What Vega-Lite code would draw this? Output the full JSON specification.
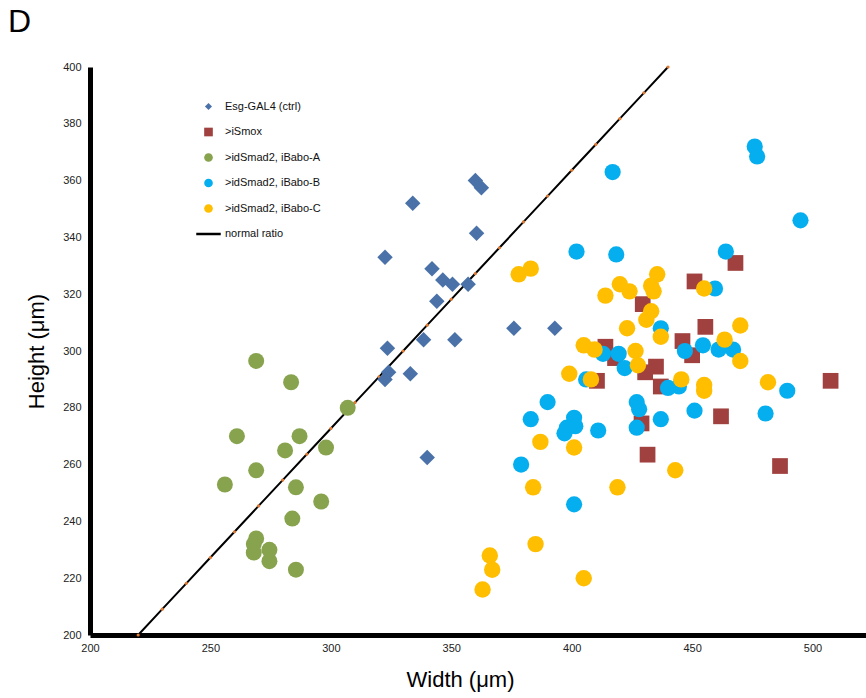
{
  "$schema": "https://vega.github.io/schema/vega-lite/v6.json",
  "width": 776,
  "height": 568,
  "autosize": {"type": "none"},
  "padding": {"left": 90, "top": 67, "right": 0, "bottom": 63},
  "background": "white",
  "title": {"text": "D", "anchor": "start", "frame": "group", "fontSize": 32, "font": "Liberation Sans", "fontWeight": "normal", "color": "#000", "dx": -82, "offset": 32, "dy": 10},
  "config": {"view": {"stroke": null}, "font": "Liberation Sans"},
  "datasets": {
    "ratio": [
      {"g": "normal ratio", "w": 220, "h": 200},
      {"g": "normal ratio", "w": 230, "h": 209.09},
      {"g": "normal ratio", "w": 240, "h": 218.18},
      {"g": "normal ratio", "w": 250, "h": 227.27},
      {"g": "normal ratio", "w": 260, "h": 236.36},
      {"g": "normal ratio", "w": 270, "h": 245.45},
      {"g": "normal ratio", "w": 280, "h": 254.55},
      {"g": "normal ratio", "w": 290, "h": 263.64},
      {"g": "normal ratio", "w": 300, "h": 272.73},
      {"g": "normal ratio", "w": 310, "h": 281.82},
      {"g": "normal ratio", "w": 320, "h": 290.91},
      {"g": "normal ratio", "w": 330, "h": 300},
      {"g": "normal ratio", "w": 340, "h": 309.09},
      {"g": "normal ratio", "w": 350, "h": 318.18},
      {"g": "normal ratio", "w": 360, "h": 327.27},
      {"g": "normal ratio", "w": 370, "h": 336.36},
      {"g": "normal ratio", "w": 380, "h": 345.45},
      {"g": "normal ratio", "w": 390, "h": 354.55},
      {"g": "normal ratio", "w": 400, "h": 363.64},
      {"g": "normal ratio", "w": 410, "h": 372.73},
      {"g": "normal ratio", "w": 420, "h": 381.82},
      {"g": "normal ratio", "w": 430, "h": 390.91},
      {"g": "normal ratio", "w": 440, "h": 400}
    ],
    "pts": [
      {"g": "Esg-GAL4 (ctrl)", "w": 360, "h": 360},
      {"g": "Esg-GAL4 (ctrl)", "w": 362.5, "h": 357.5},
      {"g": "Esg-GAL4 (ctrl)", "w": 334, "h": 352},
      {"g": "Esg-GAL4 (ctrl)", "w": 360.5, "h": 341.5},
      {"g": "Esg-GAL4 (ctrl)", "w": 322.5, "h": 333},
      {"g": "Esg-GAL4 (ctrl)", "w": 342, "h": 329},
      {"g": "Esg-GAL4 (ctrl)", "w": 346.5, "h": 325},
      {"g": "Esg-GAL4 (ctrl)", "w": 350.5, "h": 323.5},
      {"g": "Esg-GAL4 (ctrl)", "w": 357, "h": 323.5},
      {"g": "Esg-GAL4 (ctrl)", "w": 344, "h": 317.5},
      {"g": "Esg-GAL4 (ctrl)", "w": 338.5, "h": 304},
      {"g": "Esg-GAL4 (ctrl)", "w": 351.5, "h": 304},
      {"g": "Esg-GAL4 (ctrl)", "w": 323.5, "h": 301},
      {"g": "Esg-GAL4 (ctrl)", "w": 324, "h": 292.5},
      {"g": "Esg-GAL4 (ctrl)", "w": 322.5, "h": 290},
      {"g": "Esg-GAL4 (ctrl)", "w": 333, "h": 292},
      {"g": "Esg-GAL4 (ctrl)", "w": 376, "h": 308},
      {"g": "Esg-GAL4 (ctrl)", "w": 393, "h": 308},
      {"g": "Esg-GAL4 (ctrl)", "w": 340, "h": 262.5},
      {"g": ">iSmox", "w": 429.5, "h": 316.5},
      {"g": ">iSmox", "w": 414, "h": 301.5},
      {"g": ">iSmox", "w": 418, "h": 297.5},
      {"g": ">iSmox", "w": 410.5, "h": 289.5},
      {"g": ">iSmox", "w": 435, "h": 294.5},
      {"g": ">iSmox", "w": 430.5, "h": 292.5},
      {"g": ">iSmox", "w": 437, "h": 287.5},
      {"g": ">iSmox", "w": 429, "h": 274.5},
      {"g": ">iSmox", "w": 431.5, "h": 263.5},
      {"g": ">iSmox", "w": 468, "h": 331},
      {"g": ">iSmox", "w": 451, "h": 324.5},
      {"g": ">iSmox", "w": 455.5, "h": 308.5},
      {"g": ">iSmox", "w": 446, "h": 303.5},
      {"g": ">iSmox", "w": 450, "h": 298.5},
      {"g": ">iSmox", "w": 462, "h": 277},
      {"g": ">iSmox", "w": 507.5, "h": 289.5},
      {"g": ">iSmox", "w": 486.5, "h": 259.5},
      {"g": ">idSmad2, iBabo-A", "w": 307, "h": 280},
      {"g": ">idSmad2, iBabo-A", "w": 261, "h": 270},
      {"g": ">idSmad2, iBabo-A", "w": 287, "h": 270},
      {"g": ">idSmad2, iBabo-A", "w": 281, "h": 265},
      {"g": ">idSmad2, iBabo-A", "w": 298, "h": 266},
      {"g": ">idSmad2, iBabo-A", "w": 269, "h": 258},
      {"g": ">idSmad2, iBabo-A", "w": 256, "h": 253},
      {"g": ">idSmad2, iBabo-A", "w": 285.5, "h": 252},
      {"g": ">idSmad2, iBabo-A", "w": 296, "h": 247},
      {"g": ">idSmad2, iBabo-A", "w": 284, "h": 241},
      {"g": ">idSmad2, iBabo-A", "w": 269, "h": 234},
      {"g": ">idSmad2, iBabo-A", "w": 268, "h": 232},
      {"g": ">idSmad2, iBabo-A", "w": 268, "h": 229},
      {"g": ">idSmad2, iBabo-A", "w": 274.5, "h": 230},
      {"g": ">idSmad2, iBabo-A", "w": 274.5, "h": 226},
      {"g": ">idSmad2, iBabo-A", "w": 285.5, "h": 223},
      {"g": ">idSmad2, iBabo-A", "w": 269, "h": 296.5},
      {"g": ">idSmad2, iBabo-A", "w": 283.5, "h": 289},
      {"g": ">idSmad2, iBabo-B", "w": 417, "h": 363},
      {"g": ">idSmad2, iBabo-B", "w": 402, "h": 335},
      {"g": ">idSmad2, iBabo-B", "w": 418.5, "h": 334},
      {"g": ">idSmad2, iBabo-B", "w": 476, "h": 372},
      {"g": ">idSmad2, iBabo-B", "w": 477, "h": 368.5},
      {"g": ">idSmad2, iBabo-B", "w": 495, "h": 346},
      {"g": ">idSmad2, iBabo-B", "w": 464, "h": 335},
      {"g": ">idSmad2, iBabo-B", "w": 459.5, "h": 322},
      {"g": ">idSmad2, iBabo-B", "w": 437, "h": 308},
      {"g": ">idSmad2, iBabo-B", "w": 413, "h": 299},
      {"g": ">idSmad2, iBabo-B", "w": 419.5, "h": 299},
      {"g": ">idSmad2, iBabo-B", "w": 422, "h": 294},
      {"g": ">idSmad2, iBabo-B", "w": 406, "h": 290},
      {"g": ">idSmad2, iBabo-B", "w": 440, "h": 287},
      {"g": ">idSmad2, iBabo-B", "w": 444.5, "h": 287.5},
      {"g": ">idSmad2, iBabo-B", "w": 390, "h": 282},
      {"g": ">idSmad2, iBabo-B", "w": 383, "h": 276},
      {"g": ">idSmad2, iBabo-B", "w": 401, "h": 276.5},
      {"g": ">idSmad2, iBabo-B", "w": 401.5, "h": 273.5},
      {"g": ">idSmad2, iBabo-B", "w": 398, "h": 273},
      {"g": ">idSmad2, iBabo-B", "w": 397, "h": 271},
      {"g": ">idSmad2, iBabo-B", "w": 411, "h": 272},
      {"g": ">idSmad2, iBabo-B", "w": 427, "h": 282},
      {"g": ">idSmad2, iBabo-B", "w": 428, "h": 279.5},
      {"g": ">idSmad2, iBabo-B", "w": 427, "h": 273},
      {"g": ">idSmad2, iBabo-B", "w": 437, "h": 276},
      {"g": ">idSmad2, iBabo-B", "w": 379, "h": 260},
      {"g": ">idSmad2, iBabo-B", "w": 447, "h": 300},
      {"g": ">idSmad2, iBabo-B", "w": 454.5, "h": 302},
      {"g": ">idSmad2, iBabo-B", "w": 461, "h": 300.5},
      {"g": ">idSmad2, iBabo-B", "w": 467, "h": 300.5},
      {"g": ">idSmad2, iBabo-B", "w": 451, "h": 279},
      {"g": ">idSmad2, iBabo-B", "w": 480.5, "h": 278},
      {"g": ">idSmad2, iBabo-B", "w": 489.5, "h": 286},
      {"g": ">idSmad2, iBabo-B", "w": 401, "h": 246},
      {"g": ">idSmad2, iBabo-C", "w": 378, "h": 327},
      {"g": ">idSmad2, iBabo-C", "w": 383, "h": 329},
      {"g": ">idSmad2, iBabo-C", "w": 420, "h": 323.5},
      {"g": ">idSmad2, iBabo-C", "w": 424, "h": 321},
      {"g": ">idSmad2, iBabo-C", "w": 414, "h": 319.5},
      {"g": ">idSmad2, iBabo-C", "w": 435.5, "h": 327},
      {"g": ">idSmad2, iBabo-C", "w": 433, "h": 323},
      {"g": ">idSmad2, iBabo-C", "w": 434, "h": 321},
      {"g": ">idSmad2, iBabo-C", "w": 433, "h": 314},
      {"g": ">idSmad2, iBabo-C", "w": 431, "h": 311},
      {"g": ">idSmad2, iBabo-C", "w": 423, "h": 308},
      {"g": ">idSmad2, iBabo-C", "w": 437, "h": 305},
      {"g": ">idSmad2, iBabo-C", "w": 405, "h": 302},
      {"g": ">idSmad2, iBabo-C", "w": 409.5, "h": 300.5},
      {"g": ">idSmad2, iBabo-C", "w": 426.5, "h": 300},
      {"g": ">idSmad2, iBabo-C", "w": 427.5, "h": 295},
      {"g": ">idSmad2, iBabo-C", "w": 399, "h": 292},
      {"g": ">idSmad2, iBabo-C", "w": 408, "h": 290},
      {"g": ">idSmad2, iBabo-C", "w": 387, "h": 268},
      {"g": ">idSmad2, iBabo-C", "w": 401, "h": 266},
      {"g": ">idSmad2, iBabo-C", "w": 455, "h": 322},
      {"g": ">idSmad2, iBabo-C", "w": 463.5, "h": 304},
      {"g": ">idSmad2, iBabo-C", "w": 470, "h": 309},
      {"g": ">idSmad2, iBabo-C", "w": 470, "h": 296.5},
      {"g": ">idSmad2, iBabo-C", "w": 445.5, "h": 290},
      {"g": ">idSmad2, iBabo-C", "w": 455, "h": 288},
      {"g": ">idSmad2, iBabo-C", "w": 455, "h": 286},
      {"g": ">idSmad2, iBabo-C", "w": 481.5, "h": 289},
      {"g": ">idSmad2, iBabo-C", "w": 443, "h": 258},
      {"g": ">idSmad2, iBabo-C", "w": 384, "h": 252},
      {"g": ">idSmad2, iBabo-C", "w": 419, "h": 252},
      {"g": ">idSmad2, iBabo-C", "w": 385, "h": 232},
      {"g": ">idSmad2, iBabo-C", "w": 366, "h": 228},
      {"g": ">idSmad2, iBabo-C", "w": 367, "h": 223},
      {"g": ">idSmad2, iBabo-C", "w": 363, "h": 216},
      {"g": ">idSmad2, iBabo-C", "w": 405, "h": 220}
    ]
  },
  "encoding": {
    "x": {
      "field": "w", "type": "quantitative",
      "scale": {"domain": [200, 522.2], "nice": false, "zero": false},
      "axis": {
        "values": [200, 250, 300, 350, 400, 450, 500],
        "title": "Width (μm)", "titleFontSize": 22, "titleFontWeight": "normal", "titleColor": "#000",
        "titleX": 370, "titleY": 51, "titleBaseline": "alphabetic", "titleAnchor": null,
        "labelFontSize": 11, "labelColor": "#222", "labelPadding": 7, "labelFlush": false,
        "ticks": false, "grid": false, "domainColor": "#000", "domainWidth": 5
      }
    },
    "y": {
      "field": "h", "type": "quantitative",
      "scale": {"domain": [200, 400], "nice": false, "zero": false},
      "axis": {
        "values": [200, 220, 240, 260, 280, 300, 320, 340, 360, 380, 400],
        "title": "Height (μm)", "titleFontSize": 22, "titleFontWeight": "normal", "titleColor": "#000",
        "titleX": -47, "titleY": 284, "titleAngle": -90, "titleAlign": "center", "titleBaseline": "alphabetic",
        "labelFontSize": 11, "labelColor": "#222", "labelPadding": 9,
        "ticks": false, "grid": false, "domainColor": "#000", "domainWidth": 5
      }
    }
  },
  "layer": [
    {
      "data": {"name": "ratio"},
      "mark": {"type": "line", "strokeWidth": 2},
      "encoding": {
        "color": {
          "field": "g", "type": "nominal",
          "scale": {
            "domain": ["Esg-GAL4 (ctrl)", ">iSmox", ">idSmad2, iBabo-A", ">idSmad2, iBabo-B", ">idSmad2, iBabo-C", "normal ratio"],
            "range": ["#4a72a8", "#a0413f", "#87a34e", "#05aeef", "#ffbe00", "#000000"]
          },
          "legend": {
            "title": null, "orient": "none", "legendX": 113, "legendY": 34,
            "labelFontSize": 11, "labelColor": "#111", "labelOffset": 11,
            "symbolSize": 75, "rowPadding": 13.5,
            "encode": {
              "symbols": {
                "update": {
                  "stroke": {"signal": "datum.value === 'normal ratio' ? '#000' : 'transparent'"},
                  "strokeWidth": {"signal": "datum.value === 'normal ratio' ? 2.5 : 0"},
                  "size": {"signal": "datum.value === 'normal ratio' ? 600 : datum.value === 'Esg-GAL4 (ctrl)' ? 50 : 75"}
                }
              }
            }
          }
        }
      }
    },
    {
      "data": {"name": "ratio"},
      "mark": {"type": "point", "filled": true, "color": "#e07a32", "size": 10, "opacity": 1}
    },
    {
      "data": {"name": "pts"},
      "mark": {"type": "point", "filled": true, "opacity": 1},
      "encoding": {
        "color": {"field": "g", "type": "nominal"},
        "shape": {
          "field": "g", "type": "nominal",
          "scale": {
            "domain": ["Esg-GAL4 (ctrl)", ">iSmox", ">idSmad2, iBabo-A", ">idSmad2, iBabo-B", ">idSmad2, iBabo-C", "normal ratio"],
            "range": ["diamond", "square", "circle", "circle", "circle", "stroke"]
          }
        },
        "size": {
          "field": "g", "type": "nominal",
          "scale": {
            "domain": ["Esg-GAL4 (ctrl)", ">iSmox", ">idSmad2, iBabo-A", ">idSmad2, iBabo-B", ">idSmad2, iBabo-C"],
            "range": [240, 270, 180, 175, 175]
          },
          "legend": null
        }
      }
    }
  ]
}
